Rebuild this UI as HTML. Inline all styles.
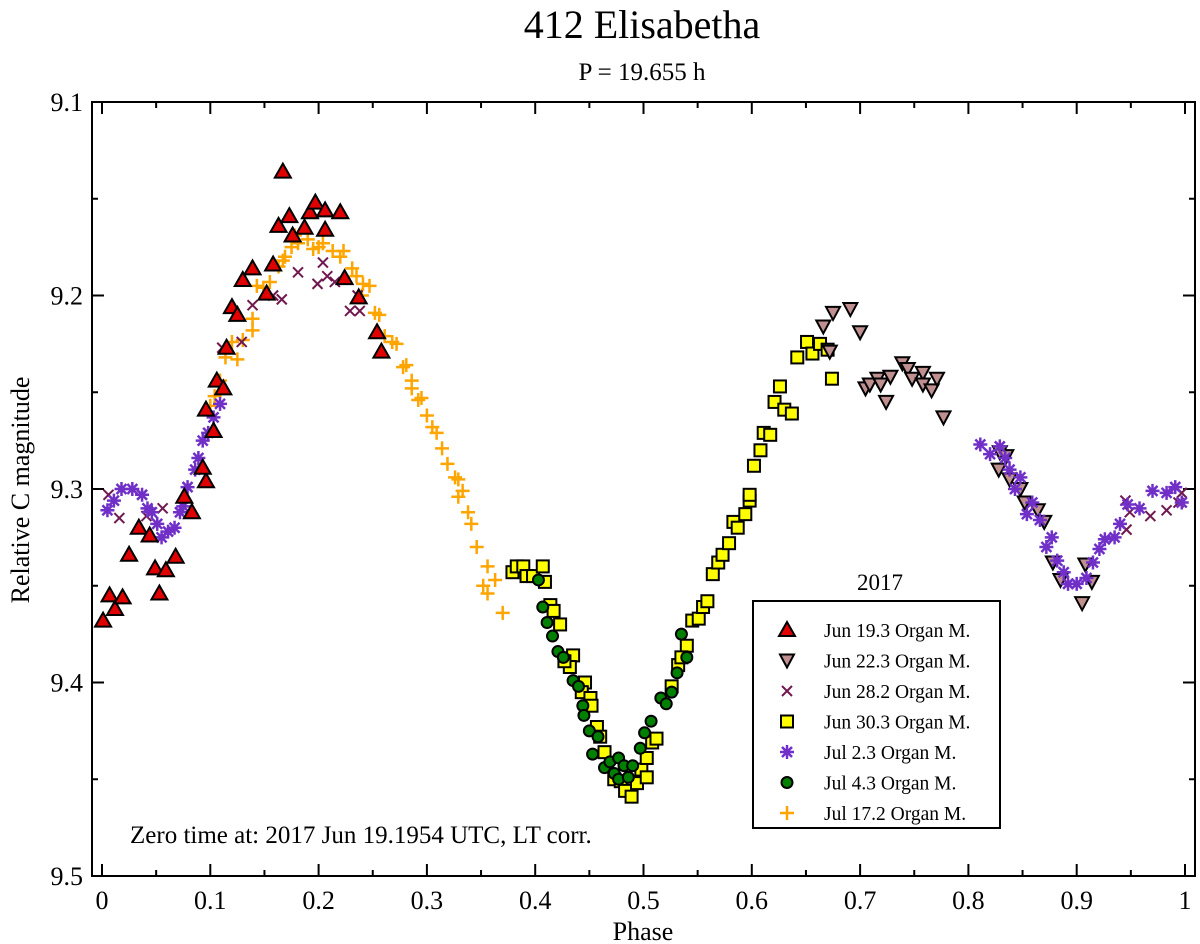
<!DOCTYPE html>
<html><head><meta charset="utf-8"><style>
html,body{margin:0;padding:0;background:#fff;}
svg{display:block;font-family:"Liberation Serif",serif;}
</style></head><body>
<svg id="chart" width="1200" height="944" viewBox="0 0 1200 944" xmlns="http://www.w3.org/2000/svg">
<text x="642" y="38" font-size="40" text-anchor="middle">412 Elisabetha</text>
<text x="642" y="80" font-size="25" text-anchor="middle">P = 19.655 h</text>
<g id="axes"></g>
<g id="marks"></g>
<text x="643" y="940" font-size="26" text-anchor="middle">Phase</text>
<text x="0" y="0" font-size="26" text-anchor="middle" transform="translate(29,490) rotate(-90)">Relative C magnitude</text>
<text x="130" y="843" font-size="25">Zero time at: 2017 Jun 19.1954 UTC, LT corr.</text>
<g id="legend"></g>
</svg>
<script>
const xTicks=[0,0.1,0.2,0.3,0.4,0.5,0.6,0.7,0.8,0.9,1];
const xTickLabels=["0","0.1","0.2","0.3","0.4","0.5","0.6","0.7","0.8","0.9","1"];
const yTicks=[9.1,9.2,9.3,9.4,9.5];
const yTickLabels=["9.1","9.2","9.3","9.4","9.5"];
const seriesNames=["Jun 19.3 Organ M.","Jun 22.3 Organ M.","Jun 28.2 Organ M.","Jun 30.3 Organ M.","Jul 2.3 Organ M.","Jul 4.3 Organ M.","Jul 17.2 Organ M."];
const jun19=[[0.001,9.368],[0.007,9.355],[0.012,9.362],[0.019,9.356],[0.025,9.334],[0.034,9.32],[0.044,9.324],[0.049,9.341],[0.053,9.354],[0.059,9.342],[0.068,9.335],[0.076,9.304],[0.083,9.312],[0.096,9.296],[0.093,9.289],[0.103,9.27],[0.096,9.259],[0.106,9.244],[0.112,9.248],[0.115,9.227],[0.12,9.206],[0.125,9.21],[0.13,9.192],[0.139,9.186],[0.158,9.184],[0.152,9.199],[0.163,9.164],[0.173,9.159],[0.167,9.136],[0.187,9.165],[0.192,9.157],[0.197,9.152],[0.206,9.156],[0.206,9.166],[0.176,9.169],[0.22,9.157],[0.224,9.191],[0.237,9.201],[0.254,9.219],[0.258,9.229]];
const jun22=[[0.675,9.209],[0.691,9.207],[0.666,9.216],[0.7,9.219],[0.672,9.229],[0.705,9.248],[0.709,9.246],[0.716,9.243],[0.719,9.246],[0.724,9.255],[0.728,9.242],[0.739,9.235],[0.744,9.238],[0.748,9.243],[0.758,9.24],[0.758,9.246],[0.766,9.249],[0.771,9.243],[0.777,9.263],[0.829,9.281],[0.835,9.283],[0.828,9.29],[0.838,9.295],[0.848,9.3],[0.852,9.307],[0.864,9.311],[0.87,9.317],[0.878,9.338],[0.885,9.347],[0.905,9.359],[0.908,9.339],[0.914,9.348]];
const jun28=[[0.006,9.303],[0.016,9.315],[0.041,9.314],[0.056,9.31],[0.111,9.227],[0.129,9.224],[0.139,9.205],[0.158,9.2],[0.166,9.202],[0.181,9.188],[0.199,9.194],[0.204,9.183],[0.208,9.19],[0.215,9.193],[0.229,9.208],[0.238,9.208],[0.236,9.2],[0.945,9.306],[0.949,9.312],[0.968,9.314],[0.983,9.311],[0.997,9.302],[0.994,9.307],[0.946,9.321]];
const jun30=[[0.379,9.343],[0.383,9.34],[0.389,9.34],[0.392,9.345],[0.398,9.345],[0.407,9.34],[0.409,9.348],[0.414,9.36],[0.417,9.363],[0.423,9.37],[0.435,9.386],[0.432,9.392],[0.427,9.389],[0.446,9.4],[0.443,9.405],[0.451,9.408],[0.452,9.412],[0.457,9.423],[0.46,9.428],[0.464,9.436],[0.473,9.45],[0.479,9.451],[0.483,9.456],[0.489,9.459],[0.494,9.452],[0.498,9.445],[0.503,9.449],[0.503,9.439],[0.508,9.431],[0.512,9.429],[0.526,9.402],[0.532,9.391],[0.54,9.381],[0.535,9.387],[0.545,9.368],[0.551,9.367],[0.555,9.361],[0.559,9.358],[0.564,9.344],[0.569,9.338],[0.573,9.334],[0.579,9.328],[0.583,9.317],[0.587,9.32],[0.594,9.313],[0.598,9.306],[0.598,9.303],[0.602,9.288],[0.608,9.28],[0.611,9.271],[0.617,9.272],[0.621,9.255],[0.626,9.247],[0.63,9.259],[0.637,9.261],[0.642,9.232],[0.651,9.224],[0.656,9.23],[0.663,9.225],[0.67,9.228],[0.674,9.243]];
const jul2=[[0.005,9.311],[0.011,9.306],[0.018,9.3],[0.028,9.3],[0.037,9.303],[0.042,9.31],[0.046,9.312],[0.051,9.318],[0.055,9.325],[0.061,9.322],[0.067,9.32],[0.072,9.312],[0.075,9.309],[0.079,9.299],[0.086,9.29],[0.089,9.284],[0.093,9.275],[0.098,9.271],[0.103,9.263],[0.109,9.256],[0.811,9.277],[0.82,9.282],[0.829,9.278],[0.834,9.284],[0.838,9.29],[0.848,9.294],[0.843,9.3],[0.859,9.307],[0.854,9.313],[0.866,9.316],[0.877,9.325],[0.872,9.33],[0.882,9.337],[0.888,9.343],[0.892,9.349],[0.9,9.349],[0.909,9.346],[0.915,9.338],[0.921,9.331],[0.926,9.326],[0.935,9.325],[0.94,9.318],[0.947,9.308],[0.958,9.31],[0.97,9.301],[0.983,9.302],[0.991,9.299],[0.997,9.307]];
const jul4=[[0.403,9.347],[0.407,9.361],[0.411,9.369],[0.416,9.376],[0.421,9.384],[0.426,9.387],[0.435,9.399],[0.44,9.402],[0.444,9.412],[0.445,9.417],[0.45,9.425],[0.458,9.428],[0.453,9.437],[0.464,9.444],[0.469,9.441],[0.473,9.447],[0.477,9.439],[0.477,9.45],[0.482,9.443],[0.486,9.449],[0.49,9.443],[0.497,9.434],[0.501,9.426],[0.507,9.42],[0.516,9.408],[0.521,9.411],[0.526,9.405],[0.531,9.395],[0.54,9.387],[0.535,9.375]];
const jul17=[[0.1,9.257],[0.104,9.252],[0.109,9.244],[0.114,9.232],[0.12,9.224],[0.125,9.233],[0.13,9.223],[0.139,9.212],[0.139,9.218],[0.143,9.195],[0.149,9.196],[0.155,9.193],[0.163,9.185],[0.167,9.182],[0.169,9.18],[0.175,9.175],[0.178,9.169],[0.181,9.173],[0.19,9.171],[0.195,9.176],[0.2,9.175],[0.204,9.173],[0.213,9.177],[0.22,9.18],[0.223,9.177],[0.231,9.186],[0.235,9.19],[0.241,9.194],[0.247,9.195],[0.24,9.2],[0.252,9.209],[0.256,9.21],[0.261,9.221],[0.268,9.224],[0.272,9.225],[0.278,9.237],[0.281,9.236],[0.286,9.244],[0.286,9.248],[0.292,9.254],[0.295,9.253],[0.3,9.262],[0.305,9.268],[0.309,9.271],[0.314,9.279],[0.319,9.287],[0.326,9.294],[0.329,9.295],[0.333,9.301],[0.329,9.304],[0.338,9.312],[0.341,9.318],[0.346,9.33],[0.356,9.34],[0.352,9.35],[0.356,9.354],[0.363,9.347],[0.37,9.364]];

const NS="http://www.w3.org/2000/svg";
const X0=102,X1=1185,Y0=102,Y1=876;
function xs(v){return X0+(v-0)/(1-0)*(X1-X0);}
function ys(v){return Y0+(v-9.1)/(9.5-9.1)*(Y1-Y0);}
function mk(tag,attrs,parent){const e=document.createElementNS(NS,tag);for(const k in attrs)e.setAttribute(k,attrs[k]);parent.appendChild(e);return e;}
const axes=document.getElementById('axes');
const frame=mk('rect',{x:92,y:Y0,width:1103,height:Y1-Y0,fill:'none',stroke:'#000','stroke-width':2},axes);


xTicks.forEach((t,i)=>{
  const x=xs(t);
  mk('line',{x1:x,y1:Y1,x2:x,y2:Y1-12,stroke:'#000','stroke-width':2},axes);
  mk('line',{x1:x,y1:Y0,x2:x,y2:Y0+12,stroke:'#000','stroke-width':2},axes);
  if(i<xTicks.length-1){const xm=xs(t+0.05);
    mk('line',{x1:xm,y1:Y1,x2:xm,y2:Y1-6,stroke:'#000','stroke-width':2},axes);
    mk('line',{x1:xm,y1:Y0,x2:xm,y2:Y0+6,stroke:'#000','stroke-width':2},axes);}
  const lb=mk('text',{x:x,y:909,'font-size':26,'text-anchor':'middle'},axes);
  lb.textContent=xTickLabels[i];
  
  
});
yTicks.forEach((t,i)=>{
  const y=ys(t);
  mk('line',{x1:92,y1:y,x2:104,y2:y,stroke:'#000','stroke-width':2},axes);
  mk('line',{x1:1195,y1:y,x2:1183,y2:y,stroke:'#000','stroke-width':2},axes);
  if(i<yTicks.length-1){const ym=ys(t+0.05);
    mk('line',{x1:92,y1:ym,x2:98,y2:ym,stroke:'#000','stroke-width':2},axes);
    mk('line',{x1:1195,y1:ym,x2:1189,y2:ym,stroke:'#000','stroke-width':2},axes);}
  const lb=mk('text',{x:83,y:y+9,'font-size':26,'text-anchor':'end'},axes);
  lb.textContent=yTickLabels[i];
  
  
});
function marker(kind,x,y,parent){
  let e;
  if(kind==='tri') e=mk('polygon',{points:`${x},${y-8} ${x-8},${y+6} ${x+8},${y+6}`,fill:'#e00000',stroke:'#000','stroke-width':2},parent);
  else if(kind==='dtri') e=mk('polygon',{points:`${x},${y+7} ${x-7},${y-6} ${x+7},${y-6}`,fill:'#c09090',stroke:'#000','stroke-width':2},parent);
  else if(kind==='x'){e=mk('path',{d:`M${x-5},${y-5}L${x+5},${y+5}M${x-5},${y+5}L${x+5},${y-5}`,stroke:'#701850','stroke-width':2,fill:'none'},parent);}
  else if(kind==='sq') e=mk('rect',{x:x-6,y:y-6,width:12,height:12,fill:'#ffff00',stroke:'#000','stroke-width':2},parent);
  else if(kind==='ast'){e=mk('path',{d:`M${x-7},${y}L${x+7},${y}M${x},${y-7}L${x},${y+7}M${x-5},${y-5}L${x+5},${y+5}M${x-5},${y+5}L${x+5},${y-5}`,stroke:'#7030c8','stroke-width':2.5,fill:'none'},parent);}
  else if(kind==='circ') e=mk('circle',{cx:x,cy:y,r:5.5,fill:'#008000',stroke:'#000','stroke-width':2},parent);
  else e=mk('path',{d:`M${x-7},${y}L${x+7},${y}M${x},${y-7}L${x},${y+7}`,stroke:'#ffa500','stroke-width':2.5,fill:'none'},parent);
  return e;
}
const marks=document.getElementById('marks');
const series=[[jun30,'sq','jun30'],[jul4,'circ','jul4'],[jun22,'dtri','jun22'],[jul17,'plus','jul17'],[jun28,'x','jun28'],[jul2,'ast','jul2'],[jun19,'tri','jun19']];
series.forEach(s=>{
  const g=mk('g',{},marks);
  
  
  s[0].forEach(p=>{
    const m=marker(s[1],xs(p[0]),ys(p[1]),g);
    
    
  });
});
const lg=document.getElementById('legend');
const lt=mk('text',{x:880,y:590,'font-size':23,'text-anchor':'middle'},lg);
lt.textContent='2017';


mk('rect',{x:753,y:601,width:247,height:227,fill:'#fff',stroke:'#000','stroke-width':2},lg);
const kinds=['tri','dtri','x','sq','ast','circ','plus'];
seriesNames.forEach((n,i)=>{
  const y=630+i*30.5;
  const g=mk('g',{},lg);
  
  
  marker(kinds[i],787,y,g);
  const t=mk('text',{x:824,y:y+7,'font-size':19.5},g);
  t.textContent=n;
});
</script>
</body></html>
